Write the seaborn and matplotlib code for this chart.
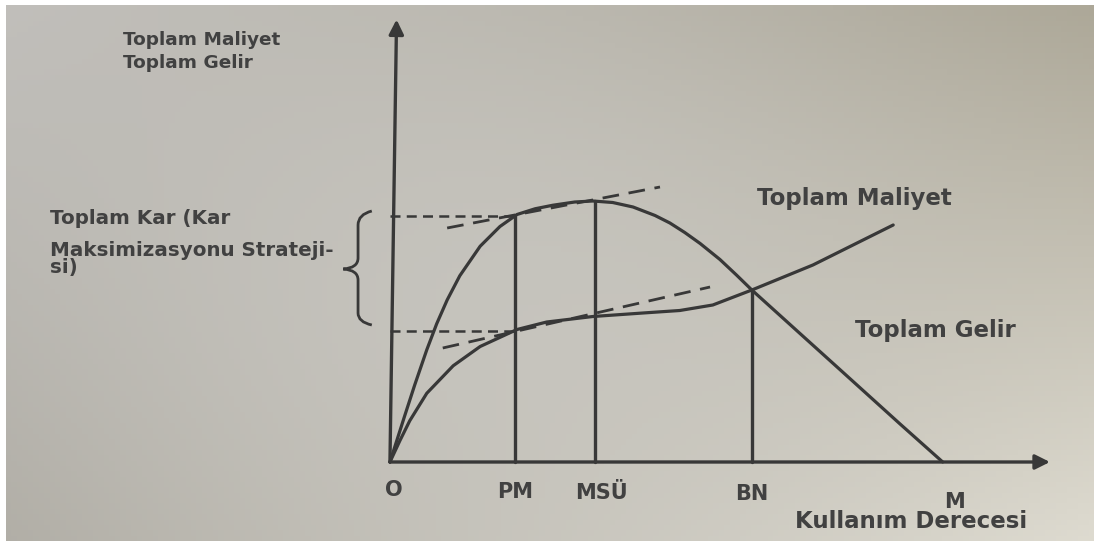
import numpy as np
import pandas as pd
import matplotlib
matplotlib.use('Agg')
import matplotlib.pyplot as plt
from matplotlib.path import Path
from matplotlib.patches import PathPatch
from matplotlib.colors import to_rgb
import seaborn as sns

# hump-shaped curve (labelled "Toplam Maliyet")
hump_x = [0, 0.27, 0.45, 0.67, 0.85, 1.04, 1.27, 1.64, 2.0, 2.31, 2.64, 2.96, 3.36, 3.69,
          4.05, 4.42, 4.82, 5.09, 5.36, 5.64, 6.0, 6.3, 6.58, 7.45, 8.18, 9.27, 10.05]
hump_y = [0, 1.86, 3.08, 4.49, 5.53, 6.48, 7.45, 8.63, 9.42, 9.9, 10.13, 10.27, 10.4, 10.44,
          10.38, 10.2, 9.86, 9.56, 9.18, 8.74, 8.1, 7.48, 6.88, 5.15, 3.7, 1.53, 0]

# rising curve (labelled "Toplam Gelir")
rise_x = [0, 0.18, 0.36, 0.67, 1.15, 1.64, 2.31, 2.85, 3.69, 4.6, 5.27, 5.87, 6.58, 7.69, 9.15]
rise_y = [0, 0.85, 1.65, 2.75, 3.85, 4.62, 5.3, 5.6, 5.82, 5.96, 6.06, 6.28, 6.88, 7.88, 9.48]

# tangent (dashed) lines
tan_upper_x = [1.04, 4.91]
tan_upper_y = [9.36, 11.0]
tan_lower_x = [0.96, 5.82]
tan_lower_y = [4.56, 7.0]

# points on the usage axis
tick_names = ['PM', 'MSÜ', 'BN']
tick_pos = [2.27, 3.73, 6.58]
m_pos = 10.05

ink = '#383838'
text_col = '#414141'

sns.set_theme(style='white')
plt.rcParams['font.family'] = ['DejaVu Sans']

fig = plt.figure(figsize=(11, 5.46), dpi=100)
fig.patch.set_facecolor('white')
ax = fig.add_axes([0, 0, 1, 1])
ax.set_xlim(-7.09, 12.91)
ax.set_ylim(-3.36, 18.48)
ax.axis('off')

# paper background with a soft vignette
corners = [to_rgb(c) for c in ['#c0beba', '#aca797', '#b0ada5', '#dedbd0']]
u = np.linspace(0, 1, 200)[None, :, None]
v = np.linspace(0, 1, 100)[:, None, None]
tl, tr, bl, br = [np.array(c)[None, None, :] for c in corners]
bg = (1 - v) * ((1 - u) * tl + u * tr) + v * ((1 - u) * bl + u * br)
mid = np.exp(-(((u - 0.45) / 0.38) ** 2 + ((v - 0.5) / 0.55) ** 2))
bg = bg * (1 - 0.5 * mid) + np.array(to_rgb('#cdccc8'))[None, None, :] * 0.5 * mid
ax.imshow(bg, extent=(-6.98, 12.8, -3.16, 18.28), aspect='auto', zorder=0)

df_hump = pd.DataFrame({'x': hump_x, 'y': hump_y})
df_rise = pd.DataFrame({'x': rise_x, 'y': rise_y})
sns.lineplot(data=df_hump, x='x', y='y', sort=False, ax=ax, color=ink, lw=2.3,
             solid_joinstyle='round', zorder=3)
sns.lineplot(data=df_rise, x='x', y='y', sort=False, ax=ax, color=ink, lw=2.3,
             solid_joinstyle='round', zorder=3)

# tangents
ax.plot(tan_upper_x, tan_upper_y, color=ink, lw=2.0, dashes=(6, 3.5), zorder=3)
ax.plot(tan_lower_x, tan_lower_y, color=ink, lw=2.0, dashes=(6, 3.5), zorder=3)

# vertical drop lines to the curves
for p in tick_pos:
    top = np.interp(p, hump_x, hump_y) if p < 6 else np.interp(p, rise_x, rise_y)
    ax.plot([p, p], [0, top], color=ink, lw=2.4, zorder=3)

# horizontal dashed guides at PM
pm = tick_pos[0]
for yv in [np.interp(pm, hump_x, hump_y), np.interp(pm, rise_x, rise_y)]:
    ax.plot([0, pm], [yv, yv], color=ink, lw=1.8, dashes=(4, 2.5), zorder=3)

# axes with arrows
arrow = dict(arrowstyle='-|>', mutation_scale=22, lw=2.4, color=ink, shrinkA=0, shrinkB=0)
ax.annotate('', xy=(12.0, 0), xytext=(0, 0), arrowprops=arrow, zorder=4)
ax.annotate('', xy=(0.12, 17.7), xytext=(0, 0), arrowprops=arrow, zorder=4)

# brace for total profit
verts = [(-0.33, 10.04), (-0.58, 9.9), (-0.58, 9.48), (-0.58, 8.16),
         (-0.58, 7.76), (-0.85, 7.72), (-0.58, 7.68), (-0.58, 7.28),
         (-0.58, 5.96), (-0.58, 5.6), (-0.33, 5.48)]
codes = [Path.MOVETO, Path.CURVE3, Path.CURVE3, Path.LINETO,
         Path.CURVE3, Path.CURVE3, Path.CURVE3, Path.CURVE3,
         Path.LINETO, Path.CURVE3, Path.CURVE3]
ax.add_patch(PathPatch(Path(verts, codes), fill=False, edgecolor=ink, lw=2.0, zorder=3))

bold = dict(color=text_col, fontweight='bold')
ax.text(-4.85, 16.88, 'Toplam Maliyet', fontsize=13.3, ha='left', va='center', **bold)
ax.text(-4.85, 15.96, 'Toplam Gelir', fontsize=13.3, ha='left', va='center', **bold)
ax.text(-6.18, 9.76, 'Toplam Kar (Kar', fontsize=14.3, ha='left', va='center', **bold)
ax.text(-6.18, 8.48, 'Maksimizasyonu Strateji-', fontsize=14.3, ha='left', va='center', **bold)
ax.text(-6.18, 7.76, 'si)', fontsize=14.3, ha='left', va='center', **bold)
ax.text(6.67, 10.56, 'Toplam Maliyet', fontsize=16.5, ha='left', va='center', **bold)
ax.text(8.45, 5.28, 'Toplam Gelir', fontsize=16.5, ha='left', va='center', **bold)

ax.text(0.07, -1.12, 'O', fontsize=15, ha='center', va='center', **bold)
tick_y = [-1.2, -1.24, -1.28]
for name, p, ty in zip(tick_names, tick_pos, tick_y):
    ax.text(p + (0.12 if name == 'MSÜ' else 0), ty, name, fontsize=15,
            ha='center', va='center', **bold)
ax.text(m_pos + 0.22, -1.6, 'M', fontsize=15, ha='center', va='center', **bold)
ax.text(9.47, -2.4, 'Kullanım Derecesi', fontsize=16.5, ha='center', va='center',
        color=text_col, fontweight='semibold')

fig.savefig('out.png', dpi=100, facecolor='white')
